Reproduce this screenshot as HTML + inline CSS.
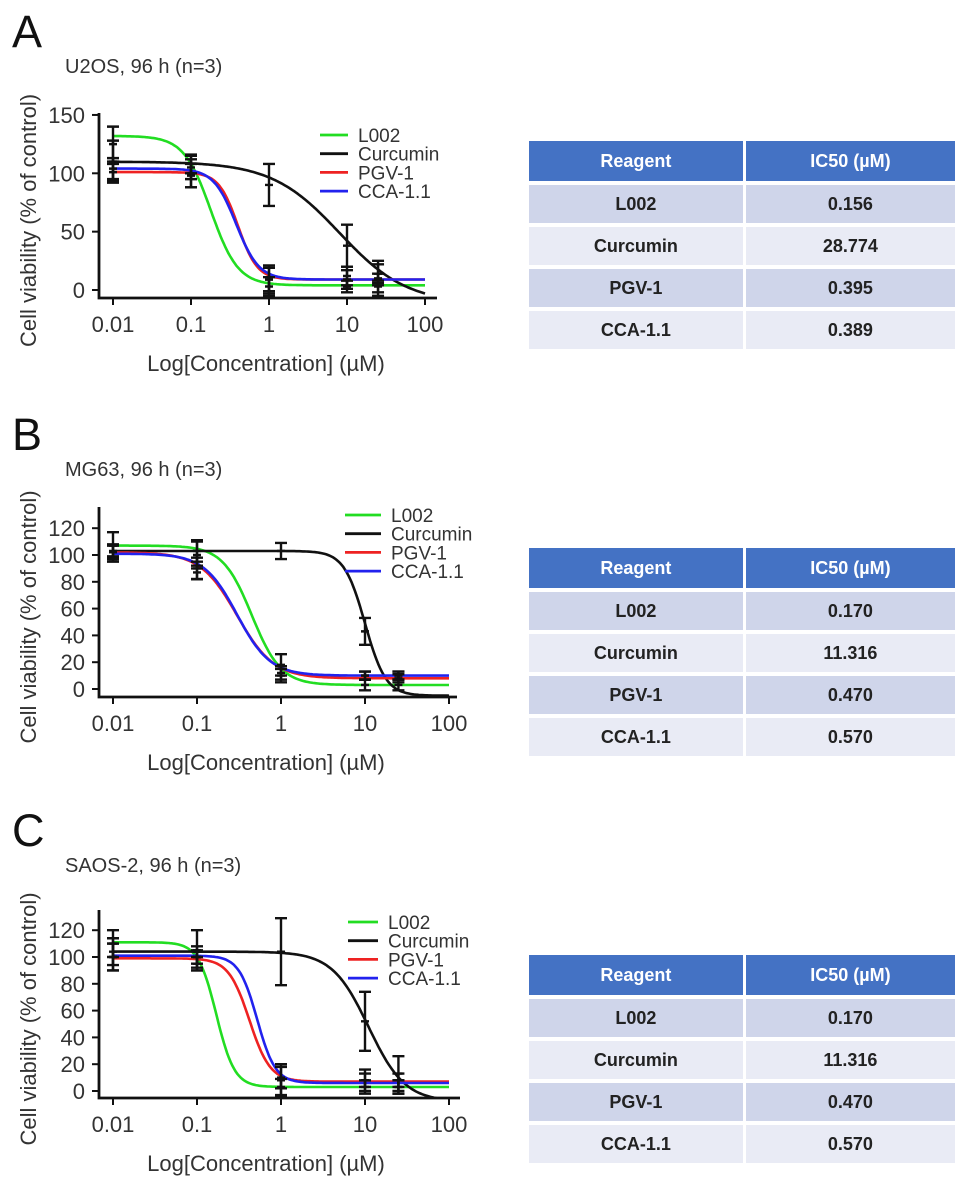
<!DOCTYPE html>
<html><head><meta charset="utf-8"><style>
body{margin:0;background:#fff;width:969px;height:1191px;overflow:hidden;font-family:"Liberation Sans",sans-serif;}
svg{position:absolute;left:0;top:0}
table{position:absolute;border-collapse:separate;border-spacing:0 4px;font-family:"Liberation Sans",sans-serif;font-weight:bold;font-size:18px;color:#222}
td,th{text-align:center;height:38px;padding:0}
th{background:#4472c4;color:#fff;height:40px}
th+th,td+td{border-left:3px solid #fff}
tr.o td{background:#cfd5ea}
tr.e td{background:#e9ebf5}
</style></head><body>
<svg id="fig" width="969" height="1191"></svg>

<table style="left:529px;top:137px;width:426px">
<tr><th>Reagent</th><th>IC50 (µM)</th></tr>
<tr class="o"><td>L002</td><td>0.156</td></tr>
<tr class="e"><td>Curcumin</td><td>28.774</td></tr>
<tr class="o"><td>PGV-1</td><td>0.395</td></tr>
<tr class="e"><td>CCA-1.1</td><td>0.389</td></tr>
</table>
<table style="left:529px;top:544px;width:426px">
<tr><th>Reagent</th><th>IC50 (µM)</th></tr>
<tr class="o"><td>L002</td><td>0.170</td></tr>
<tr class="e"><td>Curcumin</td><td>11.316</td></tr>
<tr class="o"><td>PGV-1</td><td>0.470</td></tr>
<tr class="e"><td>CCA-1.1</td><td>0.570</td></tr>
</table>
<table style="left:529px;top:951px;width:426px">
<tr><th>Reagent</th><th>IC50 (µM)</th></tr>
<tr class="o"><td>L002</td><td>0.170</td></tr>
<tr class="e"><td>Curcumin</td><td>11.316</td></tr>
<tr class="o"><td>PGV-1</td><td>0.470</td></tr>
<tr class="e"><td>CCA-1.1</td><td>0.570</td></tr>
</table>

<script>
// shared data
const seriesNames = ["L002","Curcumin","PGV-1","CCA-1.1"];
const seriesColors = ["#22dd22","#111111","#ee2222","#2222ee"];
const doses = [0.01,0.1,1,10,25];
const xTickLabels = ["0.01","0.1","1","10","100"];
const xTickValues = [0.01,0.1,1,10,100];
// Panel A
const aTop=[132,110,101,104], aBottom=[4,-12,9,9], aIC50=[0.18,8,0.4,0.38], aHill=[2.5,1,3.5,3];
const aMeans=[[125,105,3,3,3],[110,108,90,38,10],[101,100,9,9,9],[104,98,9,12,14]];
const aErrs=[[15,10,8,5,5],[18,8,18,18,15],[7,12,10,8,5],[9,10,12,8,8]];
const aYTicks=[0,50,100,150];
// Panel B
const bTop=[107,103,102,101], bBottom=[3,-5,8,10], bIC50=[0.45,10,0.3,0.3], bHill=[2.5,3.5,2,2.2];
const bMeans=[[107,100,18,3,3],[103,103,103,43,10],[97,87,12,10,10],[102,90,10,10,8]];
const bErrs=[[10,10,8,4,4],[5,8,6,10,3],[2,5,5,3,3],[5,8,5,3,3]];
const bYTicks=[0,20,40,60,80,100,120];
// Panel C
const cTop=[111,104,99,101], cBottom=[3,-8,7,6], cIC50=[0.17,11,0.42,0.52], cHill=[4,2,3.5,4];
const cMeans=[[110,105,3,3,3],[104,100,104,52,13],[100,95,8,8,8],[100,100,10,8,3]];
const cErrs=[[10,15,6,5,5],[10,8,25,22,13],[10,5,12,8,5],[10,5,8,5,5]];
const cYTicks=[0,20,40,60,80,100,120];

const NS="http://www.w3.org/2000/svg";
const svg=document.getElementById("fig");
function mk(tag,attrs,parent){const e=document.createElementNS(NS,tag);for(const k in attrs)e.setAttribute(k,attrs[k]);(parent||svg).appendChild(e);return e;}
function txt(s,attrs,parent){const e=mk("text",attrs,parent);e.textContent=s;return e;}

function panel(P){
  const g=mk("g",{});
  
  
  const xs=v=>P.x0+(Math.log10(v)+2)*P.dec;
  const ys=v=>P.y0-v*P.ppu;
  let t=txt(P.letter,{x:12,y:P.letterY,"font-size":45,fill:"#111"},g);
  
  
  t=txt(P.title,{x:65,y:P.letterY+26,"font-size":20,fill:"#333"},g);
  
  
  let ax=mk("path",{d:`M${P.axX} ${P.axTop} V${P.base} H${P.axRight}`,stroke:"#111","stroke-width":2.8,fill:"none"},g);
  
  
  P.yTicks.forEach(v=>{
    mk("line",{x1:P.axX-7,x2:P.axX,y1:ys(v),y2:ys(v),stroke:"#111","stroke-width":2},g);
    const l=txt(String(v),{x:P.axX-14,y:ys(v)+8,"text-anchor":"end","font-size":22,fill:"#333"},g);
    
    
  });
  xTickValues.forEach((v,i)=>{
    mk("line",{x1:xs(v),x2:xs(v),y1:P.base,y2:P.base+7,stroke:"#111","stroke-width":2},g);
    const l=txt(xTickLabels[i],{x:xs(v),y:P.base+34,"text-anchor":"middle","font-size":22,fill:"#333"},g);
    
    
  });
  let xl=txt("Log[Concentration] (µM)",{x:266,y:P.base+73,"text-anchor":"middle","font-size":22,fill:"#333"},g);
  
  
  const cy=(P.axTop+P.base)/2+15;
  let yl=txt("Cell viability (% of control)",{x:0,y:0,"text-anchor":"middle","font-size":22,fill:"#333",transform:`translate(36 ${cy}) rotate(-90)`},g);
  
  
  const cp=mk("clipPath",{id:"clip"+P.id},g);
  mk("rect",{x:P.axX,y:P.axTop-40,width:P.axRight-P.axX,height:P.base-P.axTop+40},cp);
  for(let s=0;s<4;s++){
    let d="";
    for(let i=0;i<=200;i++){
      const lx=-2+4*i/200, v=Math.pow(10,lx);
      const y=P.bottom[s]+(P.top[s]-P.bottom[s])/(1+Math.pow(v/P.ic50[s],P.hill[s]));
      d+=(i?"L":"M")+xs(v).toFixed(1)+" "+ys(y).toFixed(1);
    }
    const c=mk("path",{d:d,stroke:seriesColors[s],"stroke-width":2.6,fill:"none","clip-path":`url(#clip${P.id})`},g);
    
    
  }
  for(let s=0;s<4;s++){
    doses.forEach((dz,i)=>{
      const m=P.means[s][i], e=P.errs[s][i], x=xs(dz);
      const eb=mk("path",{d:`M${x} ${ys(m+e)} V${ys(m-e)} M${x-6} ${ys(m+e)} H${x+6} M${x-6} ${ys(m-e)} H${x+6} M${x-4} ${ys(m)} H${x+4}`,stroke:"#111","stroke-width":2.4,fill:"none"},g);
      
      
    });
  }
  for(let s=0;s<4;s++){
    const y=P.legY+s*18.7;
    const lg=mk("g",{},g);
    
    
    mk("line",{x1:P.legX,x2:P.legX+P.legW,y1:y,y2:y,stroke:seriesColors[s],"stroke-width":2.8},lg);
    txt(seriesNames[s],{x:P.legX+P.legW+10,y:y+7,"font-size":19,fill:"#333"},lg);
  }
}
panel({id:"a",letter:"A",title:"U2OS, 96 h (n=3)",letterY:47,x0:113,dec:78,y0:290,ppu:1.167,axX:99,axTop:113,base:298,axRight:437,
  top:aTop,bottom:aBottom,ic50:aIC50,hill:aHill,means:aMeans,errs:aErrs,yTicks:aYTicks,legX:320,legW:28,legY:135});
panel({id:"b",letter:"B",title:"MG63, 96 h (n=3)",letterY:450,x0:113,dec:84,y0:689,ppu:1.34,axX:99,axTop:507,base:697,axRight:457,
  top:bTop,bottom:bBottom,ic50:bIC50,hill:bHill,means:bMeans,errs:bErrs,yTicks:bYTicks,legX:345,legW:36,legY:515});
panel({id:"c",letter:"C",title:"SAOS-2, 96 h (n=3)",letterY:846,x0:113,dec:84,y0:1091,ppu:1.34,axX:99,axTop:910,base:1098,axRight:460,
  top:cTop,bottom:cBottom,ic50:cIC50,hill:cHill,means:cMeans,errs:cErrs,yTicks:cYTicks,legX:348,legW:30,legY:922});
</script>
</body></html>
